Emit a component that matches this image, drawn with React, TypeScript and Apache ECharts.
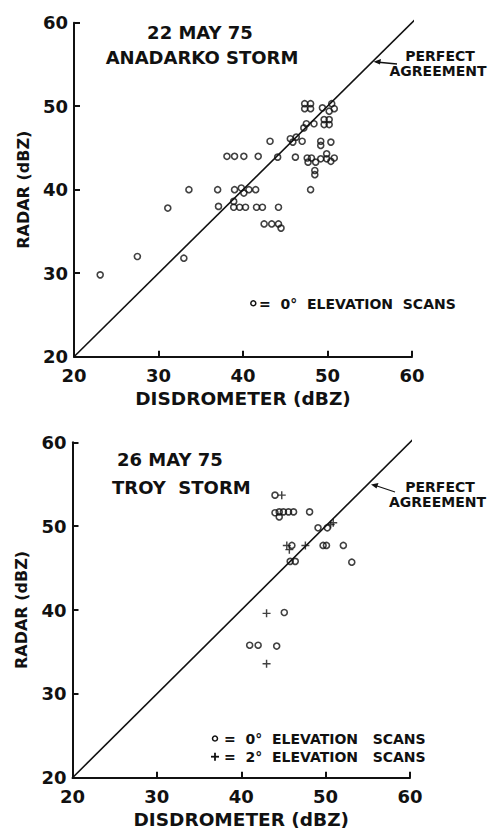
import React, { useEffect, useRef } from "react";
import * as echarts from "echarts";

// ---- Data: 22 May 75, Anadarko storm (0° elevation scans) ----
const anadarkoDisdrometer = [
  23.1, 27.5, 33.0, 31.1, 33.6, 37.0, 37.1,
  39.0, 39.8, 40.1, 40.7, 41.5,
  38.9, 38.9, 39.6, 40.3, 41.6, 42.3, 44.2,
  42.5, 43.4, 44.2, 44.5,
  38.1, 39.0, 40.1, 41.8, 44.1, 46.2, 43.2,
  45.6, 45.9, 46.3, 47.0,
  47.2, 47.5, 48.4,
  47.3, 48.0, 47.3, 48.0, 49.4, 50.5, 50.2, 50.8,
  49.6, 50.2, 49.6, 50.2,
  49.2, 49.2, 50.4,
  47.6, 47.7, 48.1, 48.6, 49.2, 49.9, 49.9, 50.4, 50.8,
  48.5, 48.5, 48.0,
];
const anadarkoRadar = [
  29.8, 32.0, 31.8, 37.8, 40.0, 40.0, 38.0,
  40.0, 40.2, 39.6, 40.0, 40.0,
  38.6, 37.9, 37.9, 37.9, 37.9, 37.9, 37.9,
  35.9, 35.9, 35.9, 35.4,
  44.0, 44.0, 44.0, 44.0, 43.9, 43.9, 45.8,
  46.1, 45.7, 46.3, 45.8,
  47.4, 47.9, 47.9,
  50.3, 50.3, 49.7, 49.7, 49.8, 50.3, 49.4, 49.7,
  48.4, 48.4, 47.8, 47.8,
  45.8, 45.3, 45.7,
  43.8, 43.3, 43.8, 43.3, 43.7, 44.3, 43.7, 43.4, 43.8,
  42.3, 41.8, 40.0,
];

// ---- Data: 26 May 75, Troy storm ----
const troy0Disdrometer = [
  44.0, 44.0, 44.5, 45.0, 45.6, 46.2, 44.5, 48.1, 49.1, 50.2,
  46.0, 49.7, 50.1, 52.1, 53.1, 45.8, 46.4, 45.1, 41.0, 42.0, 44.2,
];
const troy0Radar = [
  53.7, 51.6, 51.7, 51.7, 51.7, 51.7, 51.1, 51.7, 49.8, 49.8,
  47.7, 47.7, 47.7, 47.7, 45.7, 45.8, 45.8, 39.7, 35.8, 35.8, 35.7,
];
const troy2Disdrometer = [44.8, 50.6, 50.9, 45.4, 45.7, 47.6, 43.0, 43.0];
const troy2Radar = [53.7, 50.2, 50.4, 47.7, 47.2, 47.7, 39.6, 33.6];

// ---- Axes ----
const axisMin = 20;
const axisMax = 60;
const axisStep = 10;
const perfectLine = [20, 61.7];

const FONT = "DejaVu Sans";
const INK = "#111";

const zip = (xs: number[], ys: number[]) => xs.map((x, i) => [x, ys[i]]);

const plusPath = "path://M4.1,0H5.9V10H4.1Z M0,4.1H10V5.9H0Z";

function makeAxes(gridIndex: number) {
  const common = {
    type: "value" as const,
    gridIndex,
    min: axisMin,
    max: axisMax,
    interval: axisStep,
    splitLine: { show: false },
    axisLine: { show: true, onZero: false, lineStyle: { color: INK, width: 2 } },
    axisTick: { show: true, inside: true, length: 6, lineStyle: { color: INK, width: 2 } },
    axisLabel: { color: INK, fontFamily: FONT, fontSize: 18, fontWeight: "bold" as const },
    nameLocation: "middle" as const,
  };
  return {
    x: {
      ...common,
      name: "DISDROMETER (dBZ)",
      nameGap: 32,
      nameTextStyle: { color: INK, fontFamily: FONT, fontSize: 18.5, fontWeight: "bold" },
      axisLabel: { ...common.axisLabel, margin: 10 },
    },
    y: {
      ...common,
      name: "RADAR (dBZ)",
      nameGap: 43,
      nameTextStyle: { color: INK, fontFamily: FONT, fontSize: 16, fontWeight: "bold" },
      axisLabel: { ...common.axisLabel, margin: 6 },
    },
  };
}

export default function App() {
  const ref = useRef<HTMLDivElement>(null);
  useEffect(() => {
    if (!ref.current) return;
    const chart = echarts.init(ref.current, undefined, { renderer: "svg" });
    const a0 = makeAxes(0);
    const a1 = makeAxes(1);
    const circleStyle = { color: "rgba(0,0,0,0)", borderColor: INK, borderWidth: 1.6 };
    const lineSeries = (i: number) => ({
      type: "line",
      xAxisIndex: i,
      yAxisIndex: i,
      data: [
        [perfectLine[0], perfectLine[0]],
        [perfectLine[1], perfectLine[1]],
      ],
      symbol: "none",
      clip: false,
      lineStyle: { color: INK, width: 1.6 },
      silent: true,
      z: 1,
    });
    const txt = (text: string, x: number, y: number, size: number, align = "left") => ({
      type: "text",
      x,
      y,
      style: {
        text,
        fill: INK,
        font: `bold ${size}px "${FONT}"`,
        textAlign: align,
        textVerticalAlign: "middle",
      },
    });
    chart.setOption({
      animation: false,
      backgroundColor: "#fff",
      grid: [
        { left: 74, top: 22.7, width: 338, height: 334, containLabel: false, outerBoundsMode: "none" },
        { left: 72.5, top: 442.3, width: 337.5, height: 335.4, containLabel: false, outerBoundsMode: "none" },
      ],
      xAxis: [a0.x, a1.x],
      yAxis: [a0.y, a1.y],
      series: [
        lineSeries(0),
        lineSeries(1),
        {
          type: "scatter",
          xAxisIndex: 0,
          yAxisIndex: 0,
          data: zip(anadarkoDisdrometer, anadarkoRadar),
          symbol: "circle",
          symbolSize: 6,
          itemStyle: circleStyle,
          z: 3,
        },
        {
          type: "scatter",
          xAxisIndex: 1,
          yAxisIndex: 1,
          data: zip(troy0Disdrometer, troy0Radar),
          symbol: "circle",
          symbolSize: 6,
          itemStyle: circleStyle,
          z: 3,
        },
        {
          type: "scatter",
          xAxisIndex: 1,
          yAxisIndex: 1,
          data: zip(troy2Disdrometer, troy2Radar),
          symbol: plusPath,
          symbolSize: 8,
          itemStyle: { color: INK },
          z: 3,
        },
      ],
      graphic: [
        // top panel annotations
        txt("22 MAY 75", 200, 32, 18, "center"),
        txt("ANADARKO STORM", 202, 57.5, 18, "center"),
        txt("PERFECT", 440, 55.5, 14, "center"),
        txt("AGREEMENT", 438, 70.5, 14, "center"),
        { type: "line", shape: { x1: 376, y1: 62, x2: 397, y2: 64 }, style: { stroke: INK, lineWidth: 1.3 } },
        { type: "polygon", shape: { points: [[373.5, 61.7], [381, 59], [380, 64.5]] }, style: { fill: INK } },
        { type: "circle", shape: { cx: 253.3, cy: 303.3, r: 2.5 }, style: { fill: "none", stroke: INK, lineWidth: 1.5 } },
        txt("=  0°  ELEVATION  SCANS", 259, 303.5, 14),
        // bottom panel annotations
        txt("26 MAY 75", 117, 459.5, 18),
        txt("TROY  STORM", 112, 487.5, 18),
        txt("PERFECT", 440, 487, 14, "center"),
        txt("AGREEMENT", 437.5, 502, 14, "center"),
        { type: "line", shape: { x1: 374, y1: 485, x2: 395, y2: 492 }, style: { stroke: INK, lineWidth: 1.3 } },
        { type: "polygon", shape: { points: [[371, 484.5], [378.5, 483], [376.5, 488.5]] }, style: { fill: INK } },
        { type: "circle", shape: { cx: 215, cy: 738.5, r: 2.5 }, style: { fill: "none", stroke: INK, lineWidth: 1.5 } },
        txt("=  0°  ELEVATION   SCANS", 224, 738.5, 14),
        { type: "rect", shape: { x: 211, y: 755.8, width: 8, height: 1.8 }, style: { fill: INK } },
        { type: "rect", shape: { x: 214.1, y: 752.7, width: 1.8, height: 8 }, style: { fill: INK } },
        txt("=  2°  ELEVATION   SCANS", 224, 756.7, 14),
      ],
    });
    return () => chart.dispose();
  }, []);
  return (
    <div
      ref={ref}
      style={{ position: "absolute", left: 0, top: 0, width: 491, height: 831, background: "#fff" }}
    />
  );
}
